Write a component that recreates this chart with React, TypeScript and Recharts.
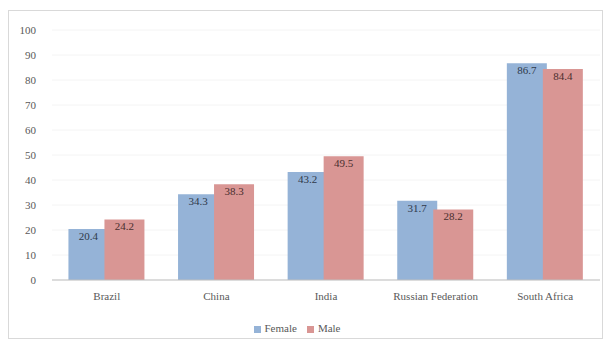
import { BarChart, Bar, XAxis, YAxis, CartesianGrid, Legend, LabelList } from "recharts";

const countries = ["Brazil", "China", "India", "Russian Federation", "South Africa"];
const female = [20.4, 34.3, 43.2, 31.7, 86.7];
const male = [24.2, 38.3, 49.5, 28.2, 84.4];
const yTicks = [0, 10, 20, 30, 40, 50, 60, 70, 80, 90, 100];

const data = countries.map((name, i) => ({ name, Female: female[i], Male: male[i] }));

const FONT = "'Liberation Serif', 'DejaVu Serif', serif";

export default function App() {
  return (
    <div style={{ position: "absolute", left: 0, top: 0, width: 611, height: 346, background: "#fff" }}>
      <div
        style={{
          position: "absolute",
          left: 8,
          top: 10,
          width: 595,
          height: 329,
          border: "1px solid #d9d9d9",
          boxSizing: "border-box",
        }}
      />
      <BarChart
        width={611}
        height={346}
        data={data}
        margin={{ top: 30, right: 11, bottom: 18, left: 4 }}
        barCategoryGap="15%"
        barGap={-4}
        style={{ position: "absolute", left: 0, top: 0, fontFamily: FONT }}
      >
        <CartesianGrid vertical={false} stroke="#f4f4f4" />
        <XAxis
          dataKey="name"
          tickLine={false}
          axisLine={{ stroke: "#bfbfbf" }}
          tick={{ fontSize: 11, fill: "#595959", fontFamily: FONT }}
          tickMargin={6}
          height={36}
        />
        <YAxis
          domain={[0, 100]}
          ticks={yTicks}
          axisLine={false}
          tickLine={false}
          tick={{ fontSize: 11, fill: "#595959", fontFamily: FONT }}
          width={48}
          tickMargin={10}
        />
        <Legend
          verticalAlign="bottom"
          align="center"
          iconType="square"
          iconSize={7}
          formatter={(value) => <span style={{ color: "#595959" }}>{value}</span>}
          wrapperStyle={{ fontSize: 11, fontFamily: FONT, bottom: 12 }}
        />
        <Bar dataKey="Female" fill="#95b3d7" isAnimationActive={false}>
          <LabelList dataKey="Female" position="insideTop" offset={3} style={{ fontSize: 11, fill: "#2f3a4a", fontFamily: FONT }} />
        </Bar>
        <Bar dataKey="Male" fill="#d99694" isAnimationActive={false}>
          <LabelList dataKey="Male" position="insideTop" offset={3} style={{ fontSize: 11, fill: "#4a2f2f", fontFamily: FONT }} />
        </Bar>
      </BarChart>
    </div>
  );
}
